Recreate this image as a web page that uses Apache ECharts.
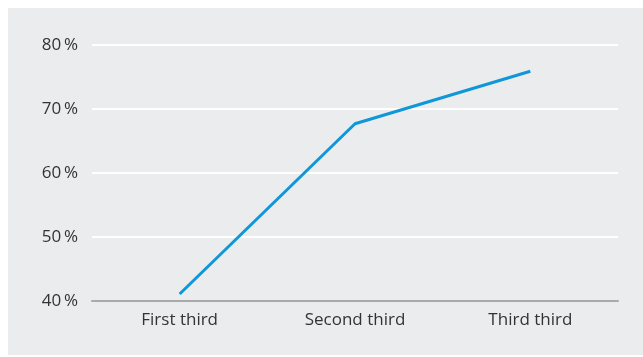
<!DOCTYPE html>
<html>
<head>
<meta charset="utf-8">
<script src="https://cdn.jsdelivr.net/npm/echarts@6/dist/echarts.min.js"></script>
<style>
  html, body { margin: 0; padding: 0; background: #ffffff; }
  #panel { position: absolute; left: 8px; top: 8px; width: 635px; height: 347px; background: #ebeced; }
  #chart { position: absolute; left: 0; top: 0; width: 643px; height: 357px; }
</style>
</head>
<body>
<div id="panel"></div>
<div id="chart"></div>
<script>
// Share of cases per third of the period
const categories = ['First third', 'Second third', 'Third third'];
const values = [41.1, 67.7, 75.9];
const yTicks = [40, 50, 60, 70, 80];

const chart = echarts.init(document.getElementById('chart'), null, { renderer: 'canvas' });
chart.setOption({
  backgroundColor: 'transparent',
  animation: false,
  grid: { left: 92, right: 25, top: 45, bottom: 56 },
  xAxis: {
    type: 'category',
    data: categories,
    boundaryGap: true,
    axisLine: { show: true, lineStyle: { color: '#a9aaac', width: 2 } },
    axisTick: { show: false },
    axisLabel: {
      color: '#333333', fontFamily: 'Open Sans', fontSize: 17, margin: 11
    }
  },
  yAxis: {
    type: 'value',
    min: yTicks[0],
    max: yTicks[yTicks.length - 1],
    interval: 10,
    axisLine: { show: false },
    axisTick: { show: false },
    axisLabel: {
      color: '#333333', fontFamily: 'Open Sans', fontSize: 17, margin: 14,
      formatter: v => v + '\u2009%'
    },
    splitLine: { show: true, lineStyle: { color: '#ffffff', width: 2 } }
  },
  series: [{
    type: 'line',
    data: values,
    symbol: 'none',
    lineStyle: { color: '#0f97da', width: 3 },
    z: 3
  }]
});
</script>
</body>
</html>
